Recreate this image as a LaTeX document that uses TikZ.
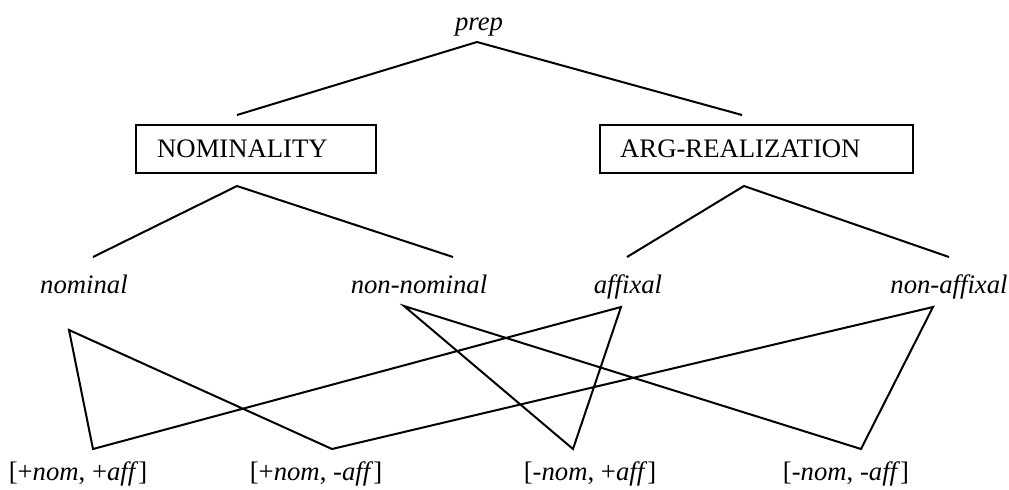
\documentclass[tikz,border=0pt]{standalone}
\usepackage{fontspec}
\setmainfont{Liberation Serif}
\usepackage{tikz}
\usetikzlibrary{positioning}
\tikzset{>=latex}
\newcommand{\diagfont}{\fontsize{13.35pt}{16pt}\selectfont}
\tikzstyle{feature}=[anchor=base, inner sep=0pt, font=\diagfont\itshape]
\tikzstyle{combo}=[anchor=base, inner sep=0pt, font=\diagfont]
\tikzstyle{dimension}=[draw, line width=1.2pt, anchor=north west, align=left, inner ysep=0pt, minimum height=24pt, font=\diagfont]
\tikzstyle{connect}=[line width=1pt, line join=miter]

\begin{document}
\begin{tikzpicture}[
    x=0.5pt, y=-0.5pt,
    font=\diagfont]

\useasboundingbox (0,0) rectangle (1009,489);

% root and the two dimensions
\node[feature] (prep) at (479,30) {prep};
\node[dimension, inner xsep=10.5pt, text width=99pt] (nominality) at (135,124) {NOMINALITY};
\node[dimension, inner xsep=10pt, text width=136.5pt] (argreal) at (599,124) {ARG-REALIZATION};

% values
\node[feature] (nominal) at (84,293) {nominal};
\node[feature] (nonnominal) at (419,293) {non-nominal};
\node[feature] (affixal) at (628,293) {affixal};
\node[feature] (nonaffixal) at (949,293) {non-affixal};

% combinations
\node[combo] (pp) at (78,480) {[+\textit{nom}, +\textit{aff}]};
\node[combo] (pm) at (316,480) {[+\textit{nom}, \textit{-aff}]};
\node[combo] (mp) at (590,480) {[\textit{-nom}, +\textit{aff}]};
\node[combo] (mm) at (846,480) {[\textit{-nom}, \textit{-aff}]};

% branch points
\coordinate (preptop) at (477,42);
\coordinate (prepL) at (237,115);
\coordinate (prepR) at (742,115);
\coordinate (nomtop) at (237,186);
\coordinate (nomL) at (93,257);
\coordinate (nomR) at (453,257);
\coordinate (argtop) at (744,186);
\coordinate (argL) at (627,257);
\coordinate (argR) at (949,257);

% crossing points
\coordinate (nominalpt) at (69,330);
\coordinate (nonnominalpt) at (404,306);
\coordinate (affixalpt) at (621,307);
\coordinate (nonaffixalpt) at (933,307);
\coordinate (pppt) at (93,449);
\coordinate (pmpt) at (332,449);
\coordinate (mppt) at (573,449);
\coordinate (mmpt) at (861,449);

\begin{scope}[connect]
    \draw (prepL) -- (preptop) -- (prepR);
    \draw (nomL) -- (nomtop) -- (nomR);
    \draw (argL) -- (argtop) -- (argR);

    \draw (pmpt) -- (nominalpt) -- (pppt) -- (affixalpt) -- (mppt) -- (nonnominalpt) -- (mmpt) -- (nonaffixalpt) -- (pmpt);
\end{scope}

\end{tikzpicture}
\end{document}
